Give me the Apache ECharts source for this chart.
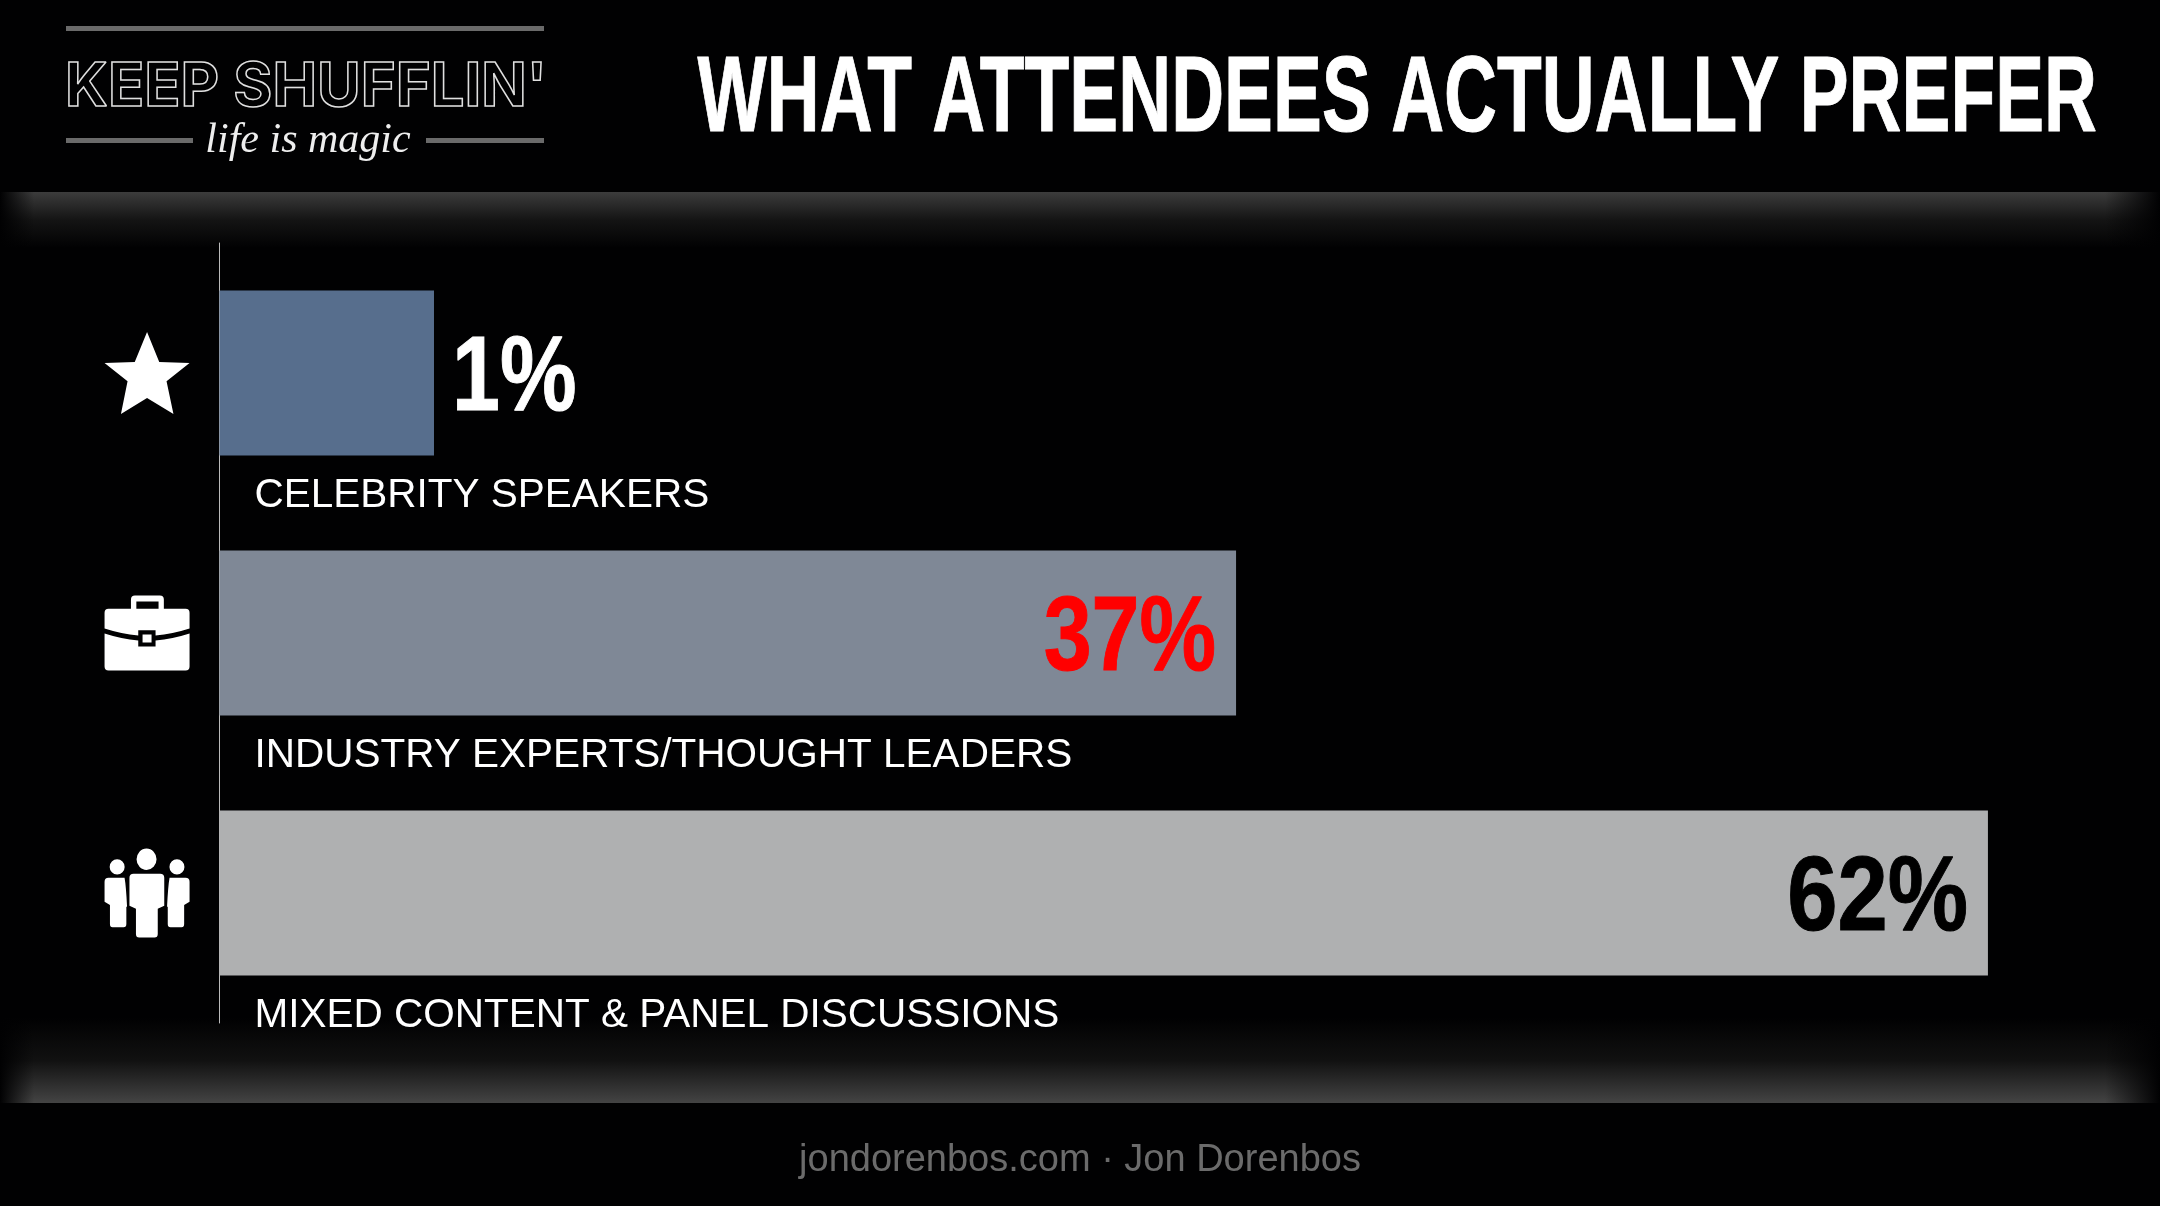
<!DOCTYPE html>
<html>
<head>
<meta charset="utf-8">
<style>
  html, body { margin: 0; background: #000; }
  #main { width: 2160px; height: 1206px; }
</style>
<script src="https://cdn.jsdelivr.net/npm/echarts@6/dist/echarts.min.js"></script>
</head>
<body>
<div id="main"></div>
<script>
const categories = ['CELEBRITY SPEAKERS', 'INDUSTRY EXPERTS/THOUGHT LEADERS', 'MIXED CONTENT & PANEL DISCUSSIONS'];
// the printed percentages
const percents = [1, 37, 62];
// bar lengths as drawn in the picture, the slide does not scale them to the percentages
const barLengths = [7.52, 35.64, 62];
const barColors = ['#576e8d', '#7f8896', '#afb0b1'];
const labelColors = ['#ffffff', '#ff0000', '#000000'];
const labelOutside = [true, false, false];
const labelSqueeze = [0.82, 0.82, 0.86];

const sans = '"Liberation Sans", Arial, sans-serif';

const starIcon = 'path://M42.5 0L54.7 30L85 31L62 49L68.9 81.7L42.5 65.7L16.4 81.7L23 49L0 31L30.2 30Z';
const caseIcon = 'path://M26.4 14L26.4 4Q26.4 0 30.4 0L55.3 0Q59.3 0 59.3 4L59.3 14L54 14L54 6L31.8 6L31.8 14Z' +
  'M4 13.3L81 13.3Q85 13.3 85 17.3L85 33Q68 38.5 51 40L51 34.7L33.7 34.7L33.7 40Q17 38.5 0 33L0 17.3Q0 13.3 4 13.3Z' +
  'M0 38Q17 43.5 33.7 45L33.7 51L51 51L51 45Q68 43.5 85 38L85 71Q85 75 81 75L4 75Q0 75 0 71Z' +
  'M38 39L47 39L47 47L38 47Z';
const peopleIcon = 'path://M32 10.7A10 10.7 0 1 1 52 10.7A10 10.7 0 1 1 32 10.7Z' +
  'M5.1 18.3A7.5 7.5 0 1 1 20.1 18.3A7.5 7.5 0 1 1 5.1 18.3Z' +
  'M64.9 18.3A7.5 7.5 0 1 1 79.9 18.3A7.5 7.5 0 1 1 64.9 18.3Z' +
  'M29 25L55.6 25Q59.7 25 59.7 29L59.7 57L53.2 60L53.2 85Q53.2 88.5 50 88.5L34.6 88.5Q31.4 88.5 31.4 85L31.4 60L24.9 57L24.9 29Q24.9 25 29 25Z' +
  'M4 29L20 29Q21.5 37 22.5 58L21.8 58L21.8 75Q21.8 78.3 19 78.3L8 78.3Q5.4 78.3 5.4 75L5.4 56.3L0 53L0 33Q0 29 4 29Z' +
  'M65 29L81 29Q85 29 85 33L85 53L79.6 56.3L79.6 75Q79.6 78.3 77 78.3L66 78.3Q63.2 78.3 63.2 75L63.2 58L62.5 58Q63.5 37 65 29Z';
const icons = [starIcon, caseIcon, peopleIcon];
const iconSizes = [[85, 82], [85, 75], [85, 89]];

const chart = echarts.init(document.getElementById('main'));

const fade = (x, y, width, height, stops, horizontal) => ({
  type: 'rect',
  shape: { x, y, width, height },
  style: {
    fill: new echarts.graphic.LinearGradient(0, 0, horizontal ? 1 : 0, horizontal ? 0 : 1, stops)
  },
  silent: true
});

const option = {
  backgroundColor: '#010102',
  animation: false,
  grid: { left: 219.5, right: 86.5, top: 243, height: 780 },
  xAxis: { type: 'value', min: 0, max: 65, show: false },
  yAxis: {
    type: 'category',
    inverse: true,
    data: categories,
    axisLine: { show: true, lineStyle: { color: '#bbbbbb', width: 1 } },
    axisTick: { show: false },
    axisLabel: {
      inside: true,
      margin: 35,
      align: 'left',
      verticalAlign: 'top',
      lineHeight: 245,
      color: '#fff',
      fontFamily: sans,
      fontSize: 40.5
    }
  },
  series: [
    {
      type: 'bar',
      barWidth: 165,
      data: barLengths.map((v, i) => ({ value: v, itemStyle: { color: barColors[i] } }))
    },
    {
      // percent labels, condensed with scaleX since no narrow font is installed
      type: 'custom',
      z: 5,
      silent: true,
      clip: false,
      data: barLengths.map((v, i) => [v, i]),
      renderItem: (params, api) => {
        const i = params.dataIndex;
        const end = api.coord([api.value(0), api.value(1)]);
        return {
          type: 'text',
          x: end[0] + (labelOutside[i] ? 18 : -20),
          y: end[1] + 8,
          scaleX: labelSqueeze[i],
          style: {
            text: percents[i] + '%',
            font: 'bold 105px ' + sans,
            fill: labelColors[i],
            stroke: labelColors[i],
            lineWidth: 1,
            align: labelOutside[i] ? 'left' : 'right',
            verticalAlign: 'middle'
          }
        };
      }
    },
    {
      // icons sit left of the axis line
      type: 'scatter',
      clip: false,
      silent: true,
      data: icons.map((icon, i) => ({
        value: [-2.54, categories[i]],
        symbol: icon,
        symbolSize: iconSizes[i],
        itemStyle: { color: '#fff', opacity: 1 }
      }))
    }
  ],
  graphic: [
    // top and bottom glow bands
    fade(0, 192, 2160, 56, [{ offset: 0, color: '#3c3c3c' }, { offset: 0.5, color: '#141414' }, { offset: 1, color: '#010102' }]),
    fade(0, 1018, 2160, 85, [{ offset: 0, color: '#010102' }, { offset: 0.5, color: '#111111' }, { offset: 1, color: '#444444' }]),
    fade(0, 192, 34, 56, [{ offset: 0, color: '#010102' }, { offset: 1, color: 'rgba(1,1,2,0)' }], true),
    fade(2105, 192, 55, 56, [{ offset: 0, color: 'rgba(1,1,2,0)' }, { offset: 1, color: '#010102' }], true),
    fade(0, 1018, 34, 85, [{ offset: 0, color: '#010102' }, { offset: 1, color: 'rgba(1,1,2,0)' }], true),
    fade(2105, 1018, 55, 85, [{ offset: 0, color: 'rgba(1,1,2,0)' }, { offset: 1, color: '#010102' }], true),
    // heading
    {
      type: 'text',
      x: 2097,
      y: 101,
      scaleX: 0.685,
      style: {
        text: 'WHAT ATTENDEES ACTUALLY PREFER',
        font: 'bold 107px ' + sans,
        fill: '#fff',
        stroke: '#fff',
        lineWidth: 1,
        align: 'right',
        verticalAlign: 'middle'
      }
    },
    // logo
    { type: 'rect', shape: { x: 66, y: 26, width: 478, height: 5 }, style: { fill: '#6a6a6a' } },
    { type: 'rect', shape: { x: 66, y: 138, width: 127, height: 5 }, style: { fill: '#6a6a6a' } },
    { type: 'rect', shape: { x: 426, y: 138, width: 118, height: 5 }, style: { fill: '#6a6a6a' } },
    {
      type: 'text',
      x: 65,
      y: 88,
      scaleX: 0.995,
      style: {
        text: "KEEP SHUFFLIN'",
        font: 'bold 60px Inter, sans-serif',
        fill: 'transparent',
        stroke: '#e0e0e0',
        lineWidth: 1.5,
        verticalAlign: 'middle'
      }
    },
    {
      type: 'text',
      x: 308,
      y: 141,
      style: {
        text: 'life is magic',
        font: 'italic 42px "Liberation Serif", serif',
        fill: '#eeeeee',
        align: 'center',
        verticalAlign: 'middle'
      }
    },
    // footer
    {
      type: 'text',
      x: 1080,
      y: 1161,
      style: {
        text: 'jondorenbos.com · Jon Dorenbos',
        font: '38px ' + sans,
        fill: '#6b6b6b',
        align: 'center',
        verticalAlign: 'middle'
      }
    }
  ]
};

chart.setOption(option);
</script>
</body>
</html>
